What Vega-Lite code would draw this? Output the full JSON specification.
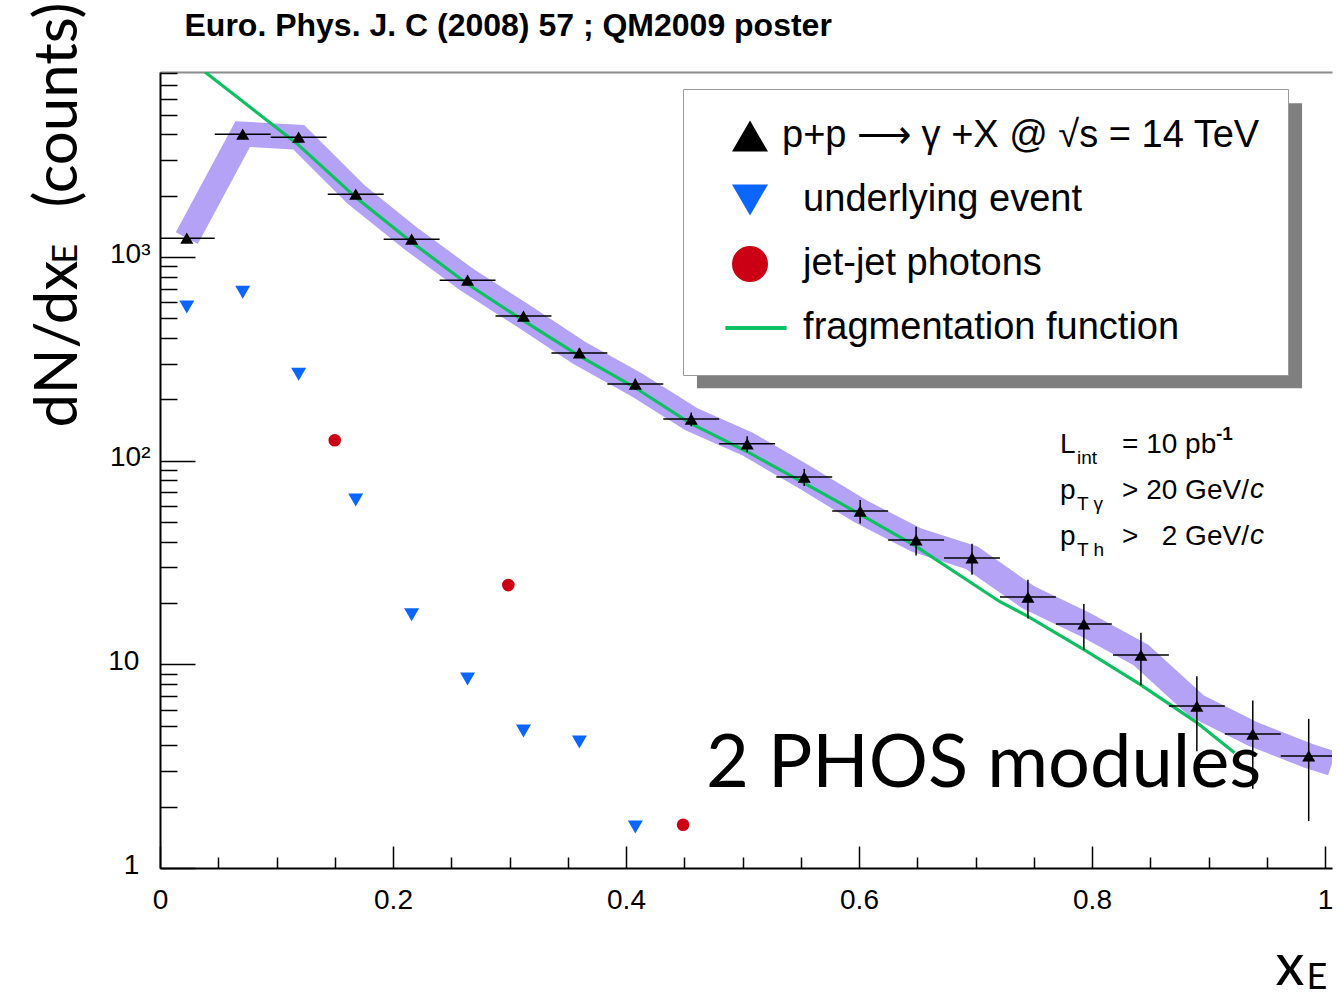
{
  "$schema": "https://vega.github.io/schema/vega-lite/v6.json",
  "width": 1172,
  "height": 796,
  "autosize": {"type": "none"},
  "padding": {"left": 160, "top": 72, "right": 5, "bottom": 129},
  "background": "white",
  "config": {
    "view": {"stroke": null},
    "axis": {"grid": false, "domainColor": "black", "tickColor": "black", "labelColor": "black", "titleColor": "black", "titleFontWeight": "normal", "labelFlush": false, "labelOverlap": false}
  },
  "datasets": {
    "pts": [
      {"series": "pp", "x": 0.023, "y": 1238, "ylo": 1203, "yhi": 1273, "xlo": 0.0, "xhi": 0.047},
      {"series": "pp", "x": 0.071, "y": 4012, "ylo": 3949, "yhi": 4075, "xlo": 0.047, "xhi": 0.095},
      {"series": "pp", "x": 0.119, "y": 3878, "ylo": 3816, "yhi": 3940, "xlo": 0.095, "xhi": 0.143},
      {"series": "pp", "x": 0.168, "y": 2036, "ylo": 1991, "yhi": 2081, "xlo": 0.144, "xhi": 0.192},
      {"series": "pp", "x": 0.216, "y": 1224, "ylo": 1189, "yhi": 1259, "xlo": 0.192, "xhi": 0.240},
      {"series": "pp", "x": 0.264, "y": 770, "ylo": 742, "yhi": 798, "xlo": 0.240, "xhi": 0.288},
      {"series": "pp", "x": 0.312, "y": 513, "ylo": 491, "yhi": 535, "xlo": 0.288, "xhi": 0.336},
      {"series": "pp", "x": 0.360, "y": 338, "ylo": 320, "yhi": 356, "xlo": 0.336, "xhi": 0.384},
      {"series": "pp", "x": 0.408, "y": 238, "ylo": 223, "yhi": 253, "xlo": 0.384, "xhi": 0.432},
      {"series": "pp", "x": 0.456, "y": 160, "ylo": 147.5, "yhi": 172.5, "xlo": 0.432, "xhi": 0.480},
      {"series": "pp", "x": 0.504, "y": 121, "ylo": 110, "yhi": 132, "xlo": 0.480, "xhi": 0.528},
      {"series": "pp", "x": 0.553, "y": 83.1, "ylo": 75.1, "yhi": 91.1, "xlo": 0.529, "xhi": 0.577},
      {"series": "pp", "x": 0.601, "y": 56.6, "ylo": 49.1, "yhi": 64.1, "xlo": 0.577, "xhi": 0.625},
      {"series": "pp", "x": 0.649, "y": 40.8, "ylo": 34.2, "yhi": 47.4, "xlo": 0.625, "xhi": 0.673},
      {"series": "pp", "x": 0.697, "y": 33.3, "ylo": 27.5, "yhi": 39.1, "xlo": 0.673, "xhi": 0.721},
      {"series": "pp", "x": 0.745, "y": 21.4, "ylo": 16.8, "yhi": 26.0, "xlo": 0.721, "xhi": 0.769},
      {"series": "pp", "x": 0.793, "y": 15.8, "ylo": 11.8, "yhi": 19.8, "xlo": 0.769, "xhi": 0.817},
      {"series": "pp", "x": 0.842, "y": 11.1, "ylo": 7.9, "yhi": 14.3, "xlo": 0.818, "xhi": 0.866},
      {"series": "pp", "x": 0.890, "y": 6.24, "ylo": 3.74, "yhi": 8.74, "xlo": 0.866, "xhi": 0.914},
      {"series": "pp", "x": 0.938, "y": 4.55, "ylo": 2.45, "yhi": 6.65, "xlo": 0.914, "xhi": 0.962},
      {"series": "pp", "x": 0.986, "y": 3.55, "ylo": 1.70, "yhi": 5.40, "xlo": 0.962, "xhi": 1.006},
      {"series": "ue", "x": 0.023, "y": 568},
      {"series": "ue", "x": 0.071, "y": 672},
      {"series": "ue", "x": 0.119, "y": 266},
      {"series": "ue", "x": 0.168, "y": 64.1},
      {"series": "ue", "x": 0.216, "y": 17.5},
      {"series": "ue", "x": 0.264, "y": 8.47},
      {"series": "ue", "x": 0.312, "y": 4.71},
      {"series": "ue", "x": 0.360, "y": 4.16},
      {"series": "ue", "x": 0.408, "y": 1.59},
      {"series": "jj", "x": 0.150, "y": 126},
      {"series": "jj", "x": 0.299, "y": 24.5},
      {"series": "jj", "x": 0.449, "y": 1.63}
    ],
    "band": [
      {"x": 0.023, "y": 1238}, {"x": 0.071, "y": 4012}, {"x": 0.119, "y": 3878}, {"x": 0.168, "y": 2036},
      {"x": 0.216, "y": 1224}, {"x": 0.264, "y": 770}, {"x": 0.312, "y": 513}, {"x": 0.360, "y": 338},
      {"x": 0.408, "y": 238}, {"x": 0.456, "y": 160}, {"x": 0.504, "y": 121}, {"x": 0.553, "y": 83.1},
      {"x": 0.601, "y": 56.6}, {"x": 0.649, "y": 40.8}, {"x": 0.697, "y": 33.3}, {"x": 0.745, "y": 21.4},
      {"x": 0.793, "y": 15.8}, {"x": 0.842, "y": 11.1}, {"x": 0.890, "y": 6.24}, {"x": 0.938, "y": 4.55},
      {"x": 0.986, "y": 3.55}, {"x": 1.006, "y": 3.26}
    ],
    "frag": [
      {"x": 0.0386, "y": 8100}, {"x": 0.1173, "y": 3614}, {"x": 0.1674, "y": 1977}, {"x": 0.2155, "y": 1189},
      {"x": 0.2633, "y": 741}, {"x": 0.3113, "y": 490}, {"x": 0.3588, "y": 330}, {"x": 0.4069, "y": 230},
      {"x": 0.4549, "y": 153}, {"x": 0.5036, "y": 111}, {"x": 0.5511, "y": 78.7}, {"x": 0.5991, "y": 55.3},
      {"x": 0.6472, "y": 38.5}, {"x": 0.7210, "y": 20.3}, {"x": 0.7442, "y": 17.3}, {"x": 0.7931, "y": 11.8},
      {"x": 0.8409, "y": 8.0}, {"x": 0.8891, "y": 5.22}, {"x": 0.9223, "y": 3.68}
    ]
  },
  "layer": [
    {
      "data": {"values": [{}]},
      "mark": {"type": "rect", "fill": "#7f7f7f"},
      "encoding": {
        "x": {"datum": 0.4609, "type": "quantitative", "scale": {"domain": [0, 1.006], "nice": false},
          "axis": {"orient": "top", "ticks": false, "labels": false, "domain": true, "domainColor": "#8c8c8c", "domainWidth": 2,
            "title": "Euro. Phys. J. C (2008) 57 ; QM2009 poster", "titleFont": "Liberation Sans", "titleFontSize": 32, "titleFontWeight": "bold",
            "titleAlign": "left", "titleBaseline": "alphabetic", "titleAngle": 0, "titleX": 24, "titleY": -37}},
        "x2": {"datum": 0.9803},
        "y": {"datum": 5694, "type": "quantitative", "scale": {"type": "log", "domain": [1, 8100], "nice": false}, "axis": null},
        "y2": {"datum": 227}
      }
    },
    {
      "data": {"values": [{}]},
      "mark": {"type": "text", "text": "2 PHOS modules", "font": "Lato", "fontSize": 74, "align": "left", "baseline": "alphabetic", "color": "black"},
      "encoding": {
        "x": {"datum": 0.4687, "type": "quantitative", "scale": {"domain": [0, 1.006], "nice": false},
          "axis": {"orient": "bottom", "values": [0.05, 0.1, 0.15, 0.25, 0.3, 0.35, 0.45, 0.5, 0.55, 0.65, 0.7, 0.75, 0.85, 0.9, 0.95],
            "ticks": true, "tickSize": -11, "tickWidth": 1.5, "labels": false, "domain": false, "title": null}},
        "y": {"datum": 2.5, "type": "quantitative", "scale": {"type": "log", "domain": [1, 8100], "nice": false},
          "axis": {"orient": "left", "values": [2, 3, 4, 5, 6, 7, 8, 9, 20, 30, 40, 50, 60, 70, 80, 90, 200, 300, 400, 500, 600, 700, 800, 900, 2000, 3000, 4000, 5000, 6000, 7000, 8000],
            "ticks": true, "tickSize": -17, "tickWidth": 1.5, "labels": false, "domain": false,
            "title": "(counts)", "titleFont": "Lato", "titleFontSize": 60, "titleAngle": 270, "titleAlign": "left", "titleBaseline": "alphabetic", "titleX": -84, "titleY": 135}}
      }
    },
    {
      "data": {"name": "band"},
      "mark": {"type": "line", "color": "#b4a2f7", "strokeWidth": 25, "clip": true, "strokeJoin": "miter", "strokeCap": "butt"},
      "encoding": {
        "x": {"field": "x", "type": "quantitative", "scale": {"domain": [0, 1.006], "nice": false},
          "axis": {"orient": "bottom", "values": [0, 0.2, 0.4, 0.6, 0.8, 1], "ticks": false, "domain": true, "domainColor": "black", "domainWidth": 2,
            "labelFont": "Liberation Sans", "labelFontSize": 28, "labelPadding": 18,
            "labelExpr": "datum.value == 0 ? '0' : datum.value == 1 ? '1' : format(datum.value, '.1f')",
            "title": "x", "titleFont": "Lato", "titleFontSize": 58, "titleAlign": "left", "titleBaseline": "alphabetic", "titleAngle": 0, "titleX": 1115, "titleY": 116}},
        "y": {"field": "y", "type": "quantitative", "scale": {"type": "log", "domain": [1, 8100], "nice": false},
          "axis": {"orient": "left", "values": [1, 10, 100, 1000], "ticks": false, "domain": true, "domainColor": "black", "domainWidth": 2,
            "labelFont": "Liberation Sans", "labelFontSize": 28, "labelPadding": 10, "labelOffset": -3,
            "labelExpr": "datum.value == 1000 ? '10³' : datum.value == 100 ? '10²' : datum.value == 10 ? '10\u2009\u2009\u200b' : '1\u2009\u2009\u200b'",
            "title": "dN/dx", "titleFont": "Lato", "titleFontSize": 60, "titleAngle": 270, "titleAlign": "left", "titleBaseline": "alphabetic", "titleX": -84, "titleY": 355}}
      }
    },
    {
      "data": {"name": "frag"},
      "mark": {"type": "line", "color": "#0fc063", "strokeWidth": 3.2, "clip": true},
      "encoding": {
        "x": {"field": "x", "type": "quantitative", "scale": {"domain": [0, 1.006], "nice": false},
          "axis": {"orient": "bottom", "values": [0, 0.2, 0.4, 0.6, 0.8, 1], "ticks": true, "tickSize": -22, "tickWidth": 1.5, "labels": false, "domain": false,
            "title": "E", "titleFont": "Lato", "titleFontSize": 36, "titleAlign": "left", "titleBaseline": "alphabetic", "titleAngle": 0, "titleX": 1146, "titleY": 120}},
        "y": {"field": "y", "type": "quantitative", "scale": {"type": "log", "domain": [1, 8100], "nice": false},
          "axis": {"orient": "left", "values": [1, 10, 100, 1000], "ticks": true, "tickSize": -35, "tickWidth": 1.5, "labels": false, "domain": false,
            "title": "E", "titleFont": "Lato", "titleFontSize": 34, "titleAngle": 270, "titleAlign": "left", "titleBaseline": "alphabetic", "titleX": -84, "titleY": 191}}
      }
    },
    {
      "data": {"name": "pts"},
      "transform": [{"filter": "datum.series === 'pp'"}],
      "mark": {"type": "rule", "color": "black", "strokeWidth": 1.5, "clip": true},
      "encoding": {
        "x": {"field": "x", "type": "quantitative", "scale": {"domain": [0, 1.006], "nice": false}, "axis": null},
        "y": {"field": "ylo", "type": "quantitative", "scale": {"type": "log", "domain": [1, 8100], "nice": false}, "axis": null},
        "y2": {"field": "yhi"}
      }
    },
    {
      "data": {"name": "pts"},
      "transform": [{"filter": "datum.series === 'pp'"}],
      "mark": {"type": "rule", "color": "black", "strokeWidth": 1.5, "clip": true},
      "encoding": {
        "x": {"field": "xlo", "type": "quantitative", "scale": {"domain": [0, 1.006], "nice": false}, "axis": null},
        "x2": {"field": "xhi"},
        "y": {"field": "y", "type": "quantitative", "scale": {"type": "log", "domain": [1, 8100], "nice": false}, "axis": null}
      }
    },
    {
      "data": {"name": "pts"},
      "mark": {"type": "point", "filled": true, "opacity": 1, "strokeWidth": 0},
      "encoding": {
        "x": {"field": "x", "type": "quantitative", "scale": {"domain": [0, 1.006], "nice": false}, "axis": null},
        "y": {"field": "y", "type": "quantitative", "scale": {"type": "log", "domain": [1, 8100], "nice": false}, "axis": null},
        "color": {"field": "series", "type": "nominal",
          "scale": {"domain": ["pp", "ue", "jj", "ff"], "range": ["#000000", "#0a66ff", "#cc0014", "#0fc063"]},
          "legend": {"orient": "none", "legendX": 523, "legendY": 17, "title": null, "direction": "vertical",
            "padding": 28, "rowPadding": 26, "symbolOffset": 20, "labelOffset": 13, "symbolSize": 1300,
            "labelFont": "Liberation Sans", "labelFontSize": 38, "labelColor": "black", "labelLimit": 1000,
            "fillColor": "white", "strokeColor": "#9a9a9a", "zindex": 1,
            "labelExpr": "datum.value == 'pp' ? 'p+p ⟶ γ +X @ √s = 14 TeV' : datum.value == 'ue' ? '\u200b\u00a0\u00a0underlying event' : datum.value == 'jj' ? '\u200b\u00a0\u00a0jet-jet photons' : '\u200b\u00a0\u00a0fragmentation function'",
            "encode": {
              "symbols": {"update": {"size": {"signal": "datum.value === 'jj' ? 950 : 1300"}}},
              "legend": {"update": {"strokeWidth": {"value": 2}}}
            }}},
        "shape": {"field": "series", "type": "nominal",
          "scale": {"domain": ["pp", "ue", "jj", "ff"], "range": ["triangle-up", "triangle-down", "circle", "M-1.37,-0.11H2.03V0.11H-1.37Z"]}},
        "size": {"condition": [{"test": "datum.series === 'ue'", "value": 225}, {"test": "datum.series === 'jj'", "value": 160}], "value": 170}
      }
    },
    {
      "data": {"values": [{}]},
      "mark": {"type": "text", "text": ["L", "p", "p"], "lineHeight": 46, "font": "Liberation Sans", "fontSize": 28, "align": "left", "baseline": "alphabetic", "color": "black"},
      "encoding": {
        "x": {"datum": 0.7725, "type": "quantitative", "scale": {"domain": [0, 1.006], "nice": false}, "axis": null},
        "y": {"datum": 109.0, "type": "quantitative", "scale": {"type": "log", "domain": [1, 8100], "nice": false}, "axis": null}
      }
    },
    {
      "data": {"values": [{}]},
      "mark": {"type": "text", "text": ["= 10 pb", ">\u00a020 GeV/", ">\u00a0\u00a0\u00a02 GeV/"], "lineHeight": 46, "font": "Liberation Sans", "fontSize": 28, "align": "left", "baseline": "alphabetic", "color": "black"},
      "encoding": {
        "x": {"datum": 0.8258, "type": "quantitative", "scale": {"domain": [0, 1.006], "nice": false}, "axis": null},
        "y": {"datum": 109.0, "type": "quantitative", "scale": {"type": "log", "domain": [1, 8100], "nice": false}, "axis": null}
      }
    },
    {
      "data": {"values": [{}]},
      "mark": {"type": "text", "text": ["c", "c"], "lineHeight": 46, "font": "Liberation Sans", "fontSize": 28, "fontStyle": "italic", "align": "left", "baseline": "alphabetic", "color": "black"},
      "encoding": {
        "x": {"datum": 0.9356, "type": "quantitative", "scale": {"domain": [0, 1.006], "nice": false}, "axis": null},
        "y": {"datum": 65.7, "type": "quantitative", "scale": {"type": "log", "domain": [1, 8100], "nice": false}, "axis": null}
      }
    },
    {
      "data": {"values": [{}]},
      "mark": {"type": "text", "text": ["int", "T γ", "T h"], "lineHeight": 46, "font": "Liberation Sans", "fontSize": 19, "align": "left", "baseline": "alphabetic", "color": "black"},
      "encoding": {
        "x": {"datum": 0.7871, "type": "quantitative", "scale": {"domain": [0, 1.006], "nice": false}, "axis": null},
        "y": {"datum": 96.3, "type": "quantitative", "scale": {"type": "log", "domain": [1, 8100], "nice": false}, "axis": null}
      }
    },
    {
      "data": {"values": [{}]},
      "mark": {"type": "text", "text": "-1", "font": "Liberation Sans", "fontSize": 19, "fontWeight": "bold", "align": "left", "baseline": "alphabetic", "color": "black"},
      "encoding": {
        "x": {"datum": 0.9064, "type": "quantitative", "scale": {"domain": [0, 1.006], "nice": false}, "axis": null},
        "y": {"datum": 126.2, "type": "quantitative", "scale": {"type": "log", "domain": [1, 8100], "nice": false}, "axis": null}
      }
    }
  ],
  "resolve": {"axis": {"x": "independent", "y": "independent"}}
}
